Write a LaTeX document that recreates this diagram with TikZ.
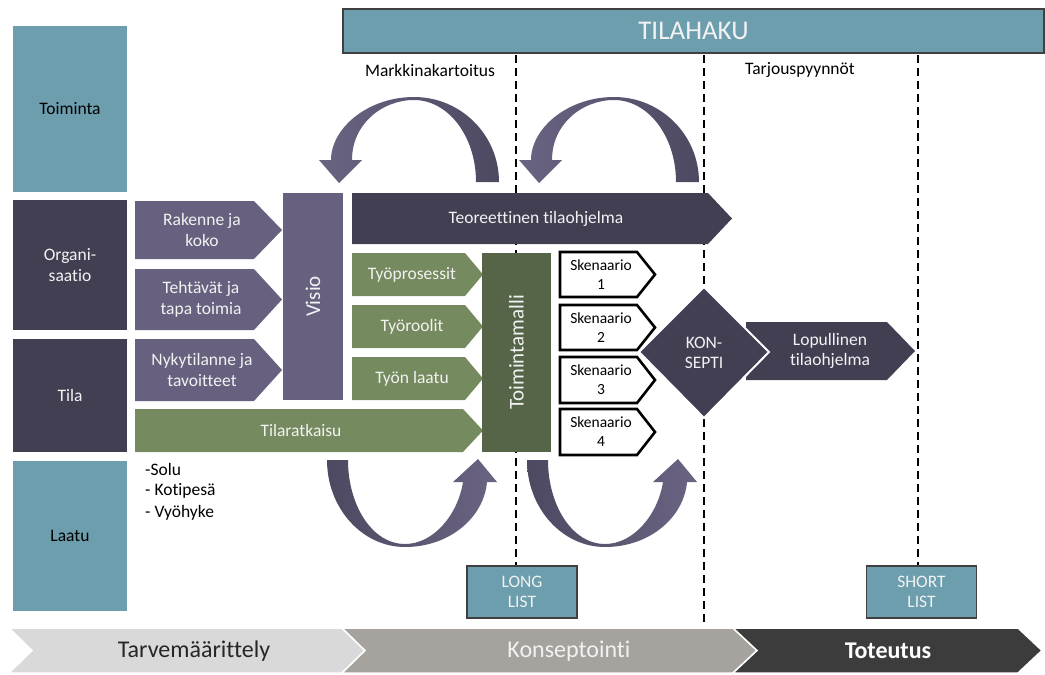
\documentclass[tikz,border=0pt]{standalone}
\usepackage{fontspec}
\setmainfont{Carlito}[Ligatures=NoCommon]
\usetikzlibrary{calc}

\definecolor{cTeal}{HTML}{6D9EAD}
\definecolor{cNavy}{HTML}{433F53}
\definecolor{cPurple}{HTML}{67617F}
\definecolor{cGreen}{HTML}{758B5F}
\definecolor{cDkGreen}{HTML}{566548}
\definecolor{cArcLight}{HTML}{6A6483}
\definecolor{cArcDark}{HTML}{4E4961}
\definecolor{cChevA}{HTML}{D9D9D9}
\definecolor{cChevB}{HTML}{A6A39E}
\definecolor{cChevC}{HTML}{3C3C3C}
\definecolor{cLight}{HTML}{F2F2F2}

% pentagon arrow: style, x0, ytop, xbody, ybottom, xtip
\newcommand{\pentarrow}[6]{%
  \path[#1] (#2,#3) -- (#4,#3) -- (#6,{(#3+#5)/2}) -- (#4,#5) -- (#2,#5) -- cycle;}

\tikzset{
  base/.style={font=\fontsize{17.5}{20.5}\selectfont},
  lbl/.style={base, align=center, inner sep=0pt},
  wlbl/.style={lbl, text=cLight},
  sidebox/.style={base, minimum width=114pt, inner sep=0pt, align=center},
  dashline/.style={line width=2.6pt, dash pattern=on 8pt off 5pt, black},
  listbox/.style={base, fill=cTeal, draw=black!75, line width=1.2pt,
    minimum width=110pt, minimum height=52pt, align=center, text=cLight, inner sep=0pt},
  skbox/.style={fill=white, draw=black, line width=2.6pt, line join=miter},
  skl/.style={align=center, inner sep=0pt, font=\fontsize{15.5}{19}\selectfont},
  chevtext/.style={font=\fontsize{24}{28}\selectfont, inner sep=0pt},
}

\begin{document}
\begin{tikzpicture}[x=1pt, y=-1pt]
\useasboundingbox (0,0) rectangle (1045,675);

% ---- top banner
\node[base, font=\fontsize{27}{30}\selectfont, fill=cTeal, draw=black!75, line width=1.4pt,
  minimum width=701pt, minimum height=44pt, text=cLight, inner sep=0pt]
  (tilahaku) at (693.5,31) {TILAHAKU};
\node[lbl] (markkina) at (430,70) {Markkinakartoitus};
\node[lbl] (tarjous) at (800,70) {Tarjouspyynnöt};

% ---- list boxes
\node[listbox] (long) at (522,592) {LONG\\LIST};
\node[listbox] (short) at (921.5,592) {SHORT\\LIST};

% ---- phase dividers (behind everything)
\coordinate (d1) at (516,55);
\coordinate (d2) at (704,55);
\coordinate (d3) at (918,55);
\coordinate (d2end) at (704,626);
\draw[dashline] (d1) -- (d1 |- long.north);
\draw[dashline] (d2) -- (d2end);
\draw[dashline] (d3) -- (d3 |- short.north);

% ---- left column
\node[sidebox, fill=cTeal, minimum height=166pt] (toiminta) at (70,109) {Toiminta};
\node[sidebox, fill=cNavy, minimum height=130pt, text=cLight] (org) at (70,265) {Organi-\\saatio};
\node[sidebox, fill=cNavy, minimum height=113pt, text=cLight] (tila) at (70,395.5) {Tila};
\node[sidebox, fill=cTeal, minimum height=150pt] (laatu) at (70,536) {Laatu};

% ---- purple inputs to Visio
\pentarrow{fill=cPurple}{135}{201}{254}{259}{282}
\pentarrow{fill=cPurple}{135}{269}{254}{330}{282}
\pentarrow{fill=cPurple}{135}{339}{254}{401}{282}
\node[wlbl] (rakenne) at (202,230) {Rakenne ja\\koko};
\node[wlbl] (tehtavat) at (201,299.5) {Tehtävät ja\\tapa toimia};
\node[wlbl] (nyky) at (202,370) {Nykytilanne ja\\tavoitteet};

\node[rotate=90, fill=cPurple, minimum width=207pt, minimum height=60pt, inner sep=0pt,
  text=cLight, font=\fontsize{21}{24}\selectfont] (visio) at (313,296.5) {Visio};

% ---- Tilaratkaisu
\pentarrow{fill=cGreen}{135}{409}{463}{452}{483}
\node[wlbl] (tilarat) at (301,430.5) {Tilaratkaisu};

% ---- list of space types
\node[base, anchor=west, inner sep=0pt] (solu) at (145,469) {-Solu};
\node[base, anchor=west, inner sep=0pt] (koti) at (145,491) {- Kotipesä};
\node[base, anchor=west, inner sep=0pt] (vyo) at (145,513) {- Vyöhyke};

% ---- theoretical programme
\pentarrow{fill=cNavy}{352}{193}{708}{244}{732}
\node[wlbl] (teor) at (536,218.5) {Teoreettinen tilaohjelma};

% ---- green inputs to Toimintamalli
\pentarrow{fill=cGreen}{352}{253}{465}{296}{483}
\pentarrow{fill=cGreen}{352}{305}{465}{348}{483}
\pentarrow{fill=cGreen}{352}{357}{465}{400}{483}
\node[wlbl] (prosessit) at (412,274.5) {Työprosessit};
\node[wlbl] (roolit) at (412,326.5) {Työroolit};
\node[wlbl] (laatu2) at (412,378.5) {Työn laatu};

\node[rotate=90, fill=cDkGreen, minimum width=199pt, minimum height=69pt, inner sep=0pt,
  text=cLight, font=\fontsize{21}{24}\selectfont] (tmalli) at (516.5,352.5) {Toimintamalli};

% ---- scenarios
\pentarrow{skbox}{560}{252}{637}{297}{655}
\pentarrow{skbox}{560}{305}{637}{350}{655}
\pentarrow{skbox}{560}{357}{637}{403}{655}
\pentarrow{skbox}{560}{409}{637}{455}{655}
\node[skl] (sk1) at (601,274.5) {Skenaario\\1};
\node[skl] (sk2) at (601,327.5) {Skenaario\\2};
\node[skl] (sk3) at (601,380) {Skenaario\\3};
\node[skl] (sk4) at (601,432) {Skenaario\\4};

% ---- final programme and concept
\pentarrow{fill=cNavy}{746}{322}{887}{380}{915}
\node[wlbl] (lopullinen) at (830,351) {Lopullinen\\tilaohjelma};
\path[fill=cNavy, draw=white, line width=2pt, line join=miter]
  (704,287) -- (769,352) -- (704,418) -- (639,352) -- cycle;
\node[wlbl] (konsepti) at (704,353) {KON-\\SEPTI};

% ---- iteration loops above
\foreach \dx in {0,200}{
  \begin{scope}[xshift=\dx pt]
  \path[left color=cArcLight, right color=cArcDark]
    (499,182) .. controls (499,135) and (461,97) .. (414,97)
    .. controls (368,97) and (331,128) .. (331,160)
    -- (319,160) -- (339,183) -- (362,160) -- (352,160)
    .. controls (352,124) and (382,100) .. (414,100)
    .. controls (448,100) and (476,136) .. (476,182) -- cycle;
  \end{scope}
}
% ---- iteration loops below
\foreach \dx in {0,200}{
  \begin{scope}[xshift=\dx pt]
  \path[left color=cArcDark, right color=cArcLight]
    (327,460) .. controls (327,508) and (362,547) .. (405,547)
    .. controls (450,547) and (484,517) .. (487,482)
    -- (497,482) -- (478,459) -- (453,482) -- (463,482)
    .. controls (458,514) and (434,544) .. (405,544)
    .. controls (372,544) and (348,505) .. (348,460) -- cycle;
  \end{scope}
}

% ---- phase chevrons
\path[fill=cChevA, draw=white, line width=1.5pt, line join=miter]
  (9,628) -- (342,628) -- (365,650.5) -- (342,673) -- (9,673) -- (32,650.5) -- cycle;
\path[fill=cChevB, draw=white, line width=1.5pt, line join=miter]
  (342,628) -- (733,628) -- (757,650.5) -- (733,673) -- (342,673) -- (365,650.5) -- cycle;
\path[fill=cChevC, draw=white, line width=1.5pt, line join=miter]
  (733,628) -- (1018,628) -- (1042,650.5) -- (1018,673) -- (733,673) -- (757,650.5) -- cycle;
\node[chevtext, text=black!85] (tarve) at (194,651) {Tarvemäärittely};
\node[chevtext, text=cLight] (konsept) at (569,651) {Konseptointi};
\node[chevtext, text=white, font=\fontsize{24}{28}\selectfont\bfseries] (toteutus) at (888,651) {Toteutus};
\end{tikzpicture}
\end{document}
